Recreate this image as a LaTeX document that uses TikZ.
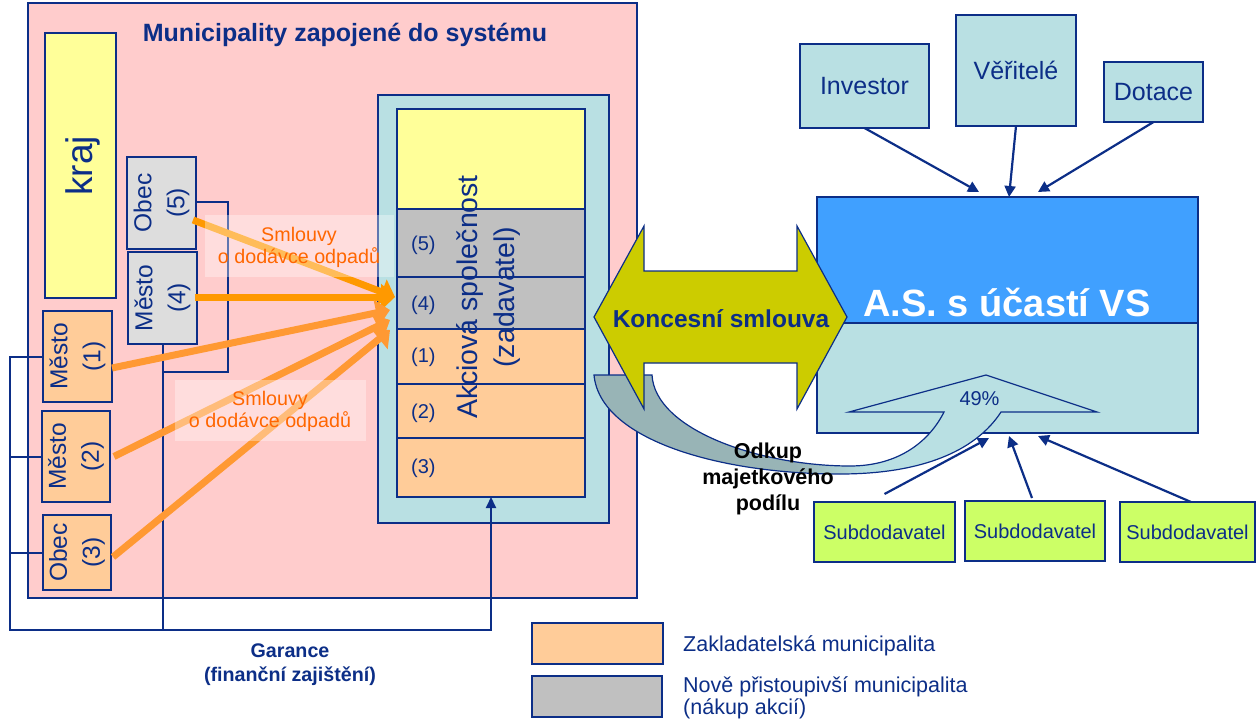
\documentclass[tikz,border=0pt]{standalone}
\usepackage{fontspec}
\setmainfont{Liberation Sans}
\usetikzlibrary{arrows.meta}

\definecolor{navy}{RGB}{12,46,135}
\definecolor{pinkbg}{RGB}{255,204,204}
\definecolor{tealbg}{RGB}{185,224,227}
\definecolor{krajyellow}{RGB}{255,255,153}
\definecolor{newgray}{RGB}{221,221,221}
\definecolor{stackgray}{RGB}{192,192,192}
\definecolor{founder}{RGB}{255,204,153}
\definecolor{olivearrow}{RGB}{204,204,0}
\definecolor{asblue}{RGB}{64,160,255}
\definecolor{limebox}{RGB}{204,255,102}
\definecolor{bandgray}{RGB}{152,180,182}
\definecolor{arrowA}{RGB}{255,153,0}
\definecolor{arrowB}{RGB}{255,153,51}
\definecolor{labelorange}{RGB}{255,102,0}

\newcommand\setfs[2]{\fontsize{#1pt}{#2pt}\selectfont}

% band of the share buy-back arrow: grey on the left, teal towards the head
\pgfdeclarehorizontalshading{bandshade}{100bp}{color(0bp)=(bandgray); color(45bp)=(bandgray); color(52bp)=(tealbg); color(100bp)=(tealbg)}

\begin{document}
\begin{tikzpicture}[x=1pt,y=-1pt,
  cellbox/.style={draw=navy, line width=1.4pt, inner sep=0pt, outer sep=0pt},
  boxtext/.style={text=navy, align=center, inner sep=0pt, font=\setfs{24.5}{33}},
  conn/.style={draw=navy, line width=2pt},
  bluearrow/.style={draw=navy, line width=2.2pt, -{Triangle[length=11pt,width=11pt]}},
  orangeA/.style={draw=arrowA, line width=7pt, -{Triangle[length=14pt,width=26pt]}},
  orangeB/.style={draw=arrowB, line width=7pt, -{Triangle[length=14pt,width=26pt]}},
  labelbg/.style={fill=white, fill opacity=0.35, inner sep=0pt},
  labeltext/.style={text=labelorange, align=center, inner sep=0pt, font=\setfs{19.7}{22}},
  stacklabel/.style={text=navy, anchor=west, inner sep=0pt, font=\setfs{20}{24}}
]
\useasboundingbox (0,0) rectangle (1257,722);

% ---------- municipalities panel ----------
\node[cellbox, fill=pinkbg, minimum width=609, minimum height=595] (panel) at (332.5,300.5) {};
\node[text=navy, font=\bfseries\setfs{25}{30}, anchor=base, inner sep=0pt] (title) at (345,42) {Municipality zapojené do systému};

\node[cellbox, fill=krajyellow, minimum width=71, minimum height=265] (kraj) at (80.5,165.5) {};
\node[rotate=90, text=navy, inner sep=0pt, font=\setfs{37}{40}] (krajT) at (83,166) {kraj};

% joint-stock company and its shareholder slices
\node[cellbox, fill=tealbg, minimum width=231, minimum height=428] (ascomp) at (493.5,309) {};
\node[cellbox, fill=krajyellow, minimum width=188, minimum height=100] (sy) at (491,159) {};
\node[cellbox, fill=stackgray, minimum width=188, minimum height=68] (s5) at (491,243) {};
\node[cellbox, fill=stackgray, minimum width=188, minimum height=52] (s4) at (491,303) {};
\node[cellbox, fill=founder, minimum width=188, minimum height=55] (s1) at (491,356.5) {};
\node[cellbox, fill=founder, minimum width=188, minimum height=54] (s2) at (491,411) {};
\node[cellbox, fill=founder, minimum width=188, minimum height=59] (s3) at (491,467.5) {};
\node[stacklabel] (l5) at (411,245) {(5)};
\node[stacklabel] (l4) at (411,305) {(4)};
\node[stacklabel] (l1) at (411,357) {(1)};
\node[stacklabel] (l2) at (411,413) {(2)};
\node[stacklabel] (l3) at (411,468) {(3)};

% municipalities
\node[cellbox, fill=newgray, minimum width=69, minimum height=92] (o5) at (161.5,203) {};
\node[cellbox, fill=newgray, minimum width=69, minimum height=92] (m4) at (162.5,298) {};
\node[cellbox, fill=founder, minimum width=69, minimum height=91] (m1) at (77.5,356.5) {};
\node[cellbox, fill=founder, minimum width=68, minimum height=91] (m2) at (76,456.5) {};
\node[cellbox, fill=founder, minimum width=68, minimum height=75] (o3) at (77,552.5) {};
\node[boxtext, rotate=90] (o5T) at (o5) {Obec\\(5)};
\node[boxtext, rotate=90] (m4T) at (m4) {Město\\(4)};
\node[boxtext, rotate=90] (m1T) at (m1) {Město\\(1)};
\node[boxtext, rotate=90] (m2T) at (m2) {Město\\(2)};
\node[boxtext, rotate=90] (o3T) at (o3) {Obec\\(3)};

% guarantee lines
\coordinate (bus) at (10,630);
\coordinate (loop) at (228,372);
\draw[conn, -{Triangle[length=11pt,width=10pt]}] (m1.west) -| (bus) -- (bus -| s3.south) -- (s3.south);
\draw[conn] (m2.west) -- (m2.west -| bus);
\draw[conn] (o3.west) -- (o3.west -| bus);
\draw[conn] ([yshift=1pt]o5.east) -| (loop) -- (loop -| m4.south);
\draw[conn] (m4.south) -- (m4.south |- bus);

% waste delivery contracts
\draw[orangeA] ([xshift=-3pt,yshift=-17pt]o5.east) -- ([xshift=-2pt,yshift=6pt]s4.west);
\draw[orangeA] ([xshift=-2pt,yshift=1pt]m4.east) -- ([xshift=-2pt,yshift=6pt]s4.west);
\draw[orangeB] ([yshift=-11.5pt]m1.east) -- ([xshift=-7pt,yshift=-7pt]s4.west);
\draw[orangeB] ([xshift=4pt]m2.east) -- ([xshift=-7pt,yshift=-17pt]s4.west);
\draw[orangeB] ([xshift=2pt,yshift=-4.5pt]o3.east) -- ([xshift=-7pt,yshift=-27pt]s4.west);

\node[labelbg, minimum width=189, minimum height=62] (lb1) at (299.5,246) {};
\node[labeltext] (lt1) at (299,247) {Smlouvy\\o dodávce odpadů};
\node[labelbg, minimum width=191, minimum height=61] (lb2) at (270.5,410.5) {};
\node[labeltext] (lt2) at (270,411) {Smlouvy\\o dodávce odpadů};

\node[rotate=90, text=navy, align=center, inner sep=0pt, font=\setfs{28.5}{37}] (akc) at (488,297) {Akciová společnost\\(zadavatel)};

% ---------- concessionaire side ----------
\node[cellbox, fill=tealbg, minimum width=129, minimum height=84, text=navy, font=\setfs{25}{28}] (inv) at (864.5,86) {Investor};
\node[cellbox, fill=tealbg, minimum width=120, minimum height=111, text=navy, font=\setfs{25}{28}] (ver) at (1016,70.5) {Věřitelé};
\node[cellbox, fill=tealbg, minimum width=99, minimum height=60, text=navy, font=\setfs{25}{28}] (dot) at (1153.5,92) {Dotace};

\node[cellbox, fill=tealbg, minimum width=381, minimum height=110] (asBot) at (1007.5,378) {};
\node[cellbox, fill=asblue, minimum width=381, minimum height=126] (asTop) at (1007.5,260) {};
\node[text=white, font=\bfseries\setfs{38}{40}, anchor=base, inner sep=0pt] (asT) at (1007,316) {A.S. s účastí VS};

\draw[bluearrow] (inv.south) -- ([xshift=-28.5pt,yshift=5pt]asTop.north);
\draw[bluearrow] (ver.south) -- ([xshift=1.5pt]asTop.north);
\draw[bluearrow] (dot.south) -- ([xshift=30.5pt,yshift=5pt]asTop.north);

\node[cellbox, fill=limebox, minimum width=141, minimum height=60, text=navy, font=\setfs{20}{22}] (sub1) at (884.5,532) {Subdodavatel};
\node[cellbox, fill=limebox, minimum width=140, minimum height=60, text=navy, font=\setfs{20}{22}] (sub2) at (1035,531) {Subdodavatel};
\node[cellbox, fill=limebox, minimum width=135, minimum height=60, text=navy, font=\setfs{20}{22}] (sub3) at (1187.5,532) {Subdodavatel};

% buy-back of the ownership share (curved arrow into the 49 % head)
\path[draw=navy, line width=1.2pt, shading=bandshade]
  (594,375) -- (652,375)
  .. controls (655,430) and (760,466) .. (850,466)
  .. controls (900,466) and (930,440) .. (944,412)
  -- (849,412) -- (986,375) -- (1097,412) -- (1001,412)
  .. controls (975,452) and (920,474) .. (840,474)
  .. controls (720,474) and (600,440) .. (594,375) -- cycle;
\node[text=navy, anchor=base, inner sep=0pt, font=\setfs{20}{22}] (pct) at (979.5,405) {49\%};

\draw[bluearrow] ([yshift=8pt]sub1.north) -- ([xshift=-18.5pt,yshift=-5pt]asBot.south);
\draw[bluearrow] ([xshift=-3pt,yshift=3pt]sub2.north) -- ([xshift=1.5pt,yshift=-3pt]asBot.south);
\draw[bluearrow] ([xshift=3.5pt]sub3.north) -- ([xshift=30.5pt,yshift=-3pt]asBot.south);

% concession contract double arrow
\path[draw=navy, line width=1.2pt, fill=olivearrow]
  (594,317) -- (644,226) -- (644,271) -- (797,271) -- (797,226) -- (847,317)
  -- (797,409) -- (797,363) -- (644,363) -- (644,409) -- cycle;
\node[text=navy, font=\bfseries\setfs{24.5}{28}, anchor=base, inner sep=0pt] (kons) at (721,327) {Koncesní smlouva};

\node[align=center, inner sep=0pt, font=\bfseries\setfs{21.5}{26}] (odk) at (768,479) {Odkup\\majetkového\\podílu};

% ---------- guarantee caption and legend ----------
\node[align=center, text=navy, inner sep=0pt, font=\bfseries\setfs{19.7}{24}] (gar) at (290,665) {Garance\\(finanční zajištění)};

\node[cellbox, fill=founder, minimum width=131, minimum height=41] (leg1) at (597.5,643.5) {};
\node[cellbox, fill=stackgray, minimum width=130, minimum height=41] (leg2) at (597,696.5) {};
\node[anchor=base west, text=navy, inner sep=0pt, font=\setfs{21.5}{22}] (legT1) at (683,651) {Zakladatelská municipalita};
\node[anchor=west, align=left, text=navy, inner sep=0pt, font=\setfs{21.5}{22}] (legT2) at (683,698) {Nově přistoupivší municipalita\\(nákup akcií)};
\end{tikzpicture}
\end{document}
